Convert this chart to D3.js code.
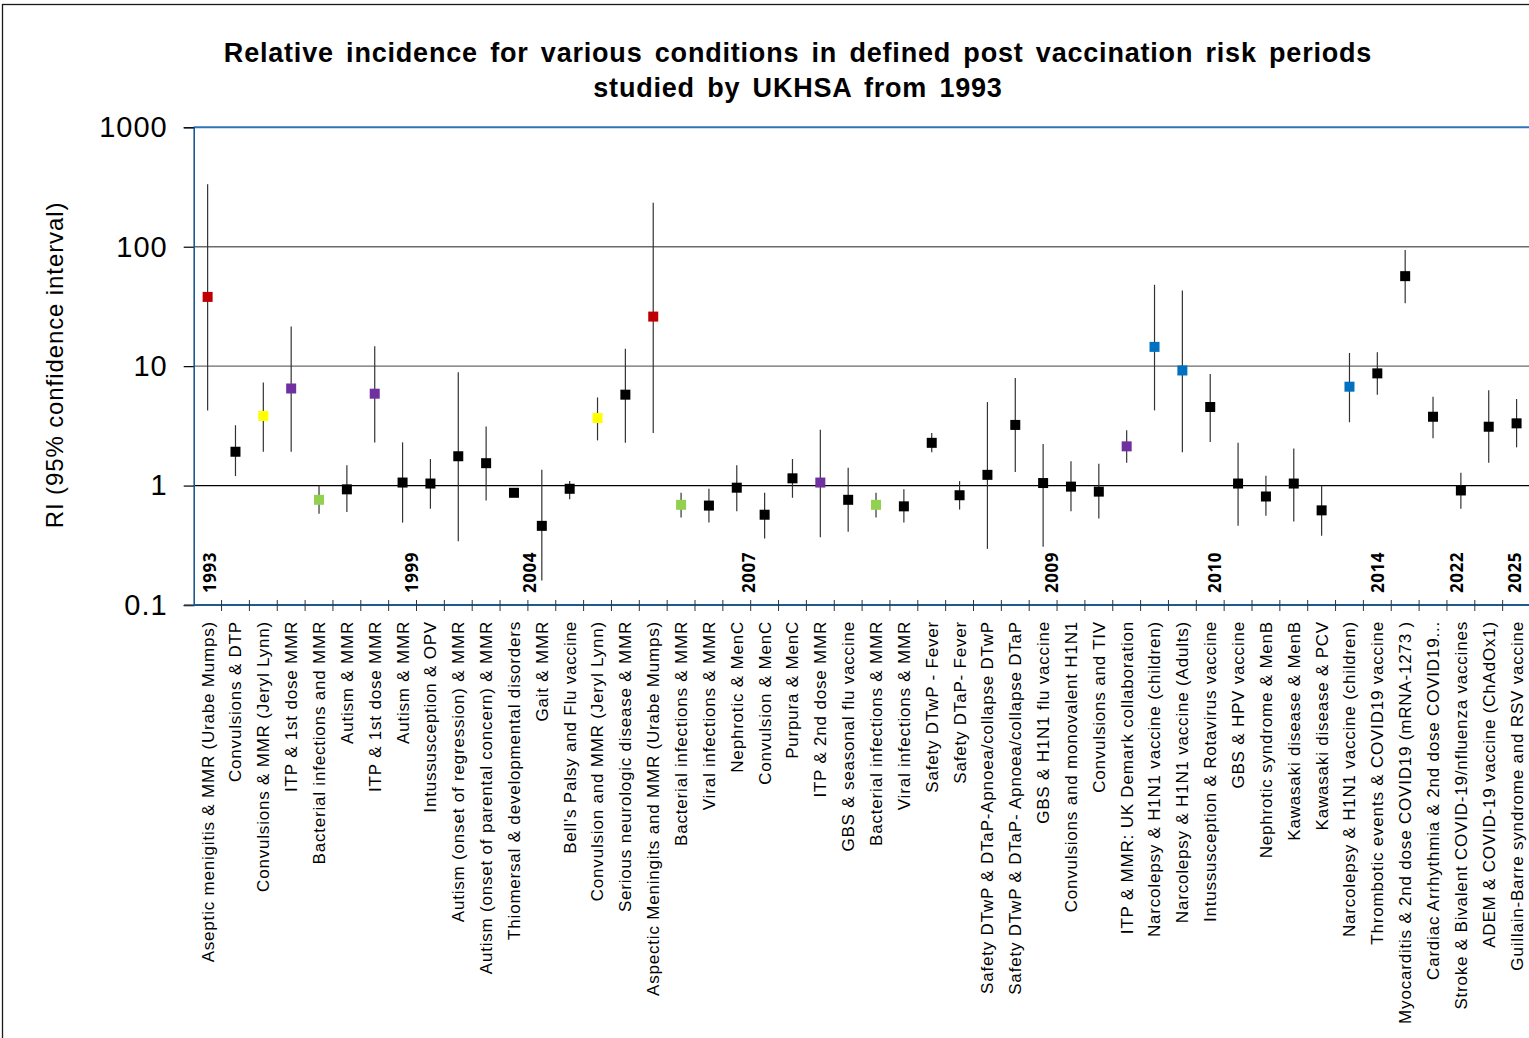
<!DOCTYPE html>
<html>
<head>
<meta charset="utf-8">
<script src="https://cdn.jsdelivr.net/npm/d3@7"></script>
<style>
  html, body { margin: 0; padding: 0; background: #fff; overflow: hidden; }
  svg { display: block; }
</style>
</head>
<body>
<svg id="chart" width="1529" height="1038"></svg>
<script>
// Studies, in publication order
const categories = [
  "Aseptic menigitis & MMR (Urabe Mumps)",
  "Convulsions & DTP",
  "Convulsions & MMR (Jeryl Lynn)",
  "ITP & 1st dose MMR",
  "Bacterial infections and MMR",
  "Autism & MMR",
  "ITP & 1st dose MMR",
  "Autism & MMR",
  "Intussusception & OPV",
  "Autism (onset of regression) & MMR",
  "Autism (onset of parental concern) & MMR",
  "Thiomersal & developmental disorders",
  "Gait & MMR",
  "Bell\u2019s Palsy and Flu vaccine",
  "Convulsion and MMR (Jeryl Lynn)",
  "Serious neurologic disease & MMR",
  "Aspectic Meningits and MMR (Urabe Mumps)",
  "Bacterial infections & MMR",
  "Viral infections & MMR",
  "Nephrotic & MenC",
  "Convulsion & MenC",
  "Purpura & MenC",
  "ITP & 2nd dose MMR",
  "GBS & seasonal flu vaccine",
  "Bacterial infections & MMR",
  "Viral infections & MMR",
  "Safety DTwP - Fever",
  "Safety DTaP- Fever",
  "Safety DTwP & DTaP-Apnoea/collapse DTwP",
  "Safety DTwP & DTaP- Apnoea/collapse DTaP",
  "GBS & H1N1 flu vaccine",
  "Convulsions and monovalent H1N1",
  "Convulsions and TIV",
  "ITP & MMR: UK Demark collaboration",
  "Narcolepsy & H1N1 vaccine (children)",
  "Narcolepsy & H1N1 vaccine (Adults)",
  "Intussusception & Rotavirus vaccine",
  "GBS & HPV vaccine",
  "Nephrotic syndrome & MenB",
  "Kawasaki disease &  MenB",
  "Kawasaki disease & PCV",
  "Narcolepsy & H1N1 vaccine (children)",
  "Thrombotic events & COVID19 vaccine",
  "Myocarditis & 2nd dose COVID19 (mRNA-1273 )",
  "Cardiac Arrhythmia & 2nd dose COVID19...",
  "Stroke & Bivalent COVID-19/nfluenza vaccines",
  "ADEM & COVID-19  vaccine (ChAdOx1)",
  "Guillain-Barre syndrome  and RSV vaccine"
];

// Relative incidence point estimates
const ri = [
  38, 1.92, 3.83, 6.5, 0.76, 0.93, 5.88, 1.06, 1.04, 1.76,
  1.54, 0.87, 0.46, 0.94, 3.68, 5.77, 26, 0.69, 0.68, 0.96,
  0.57, 1.15, 1.06, 0.76, 0.69, 0.67, 2.28, 0.83, 1.23, 3.22,
  1.05, 0.98, 0.89, 2.13, 14.5, 9.2, 4.55, 1.04, 0.81, 1.04,
  0.62, 6.73, 8.7, 56.7, 3.77, 0.91, 3.11, 3.32
];

// Lower 95% confidence limits
const lower = [
  4.26, 1.2, 1.92, 1.92, 0.58, 0.6, 2.29, 0.49, 0.64, 0.342,
  0.75, 0.83, 0.16, 0.77, 2.39, 2.28, 2.76, 0.54, 0.49, 0.61,
  0.36, 0.79, 0.37, 0.41, 0.54, 0.49, 1.9, 0.63, 0.295, 1.3,
  0.307, 0.61, 0.53, 1.55, 4.26, 1.9, 2.32, 0.46, 0.56, 0.5,
  0.38, 3.39, 5.77, 33.7, 2.49, 0.64, 1.55, 2.09
];

// Upper 95% confidence limits
const upper = [
  333, 3.2, 7.3, 21.5, 1.0, 1.48, 14.7, 2.3, 1.67, 8.9,
  3.13, 0.91, 1.36, 1.09, 5.47, 14, 234, 0.87, 0.94, 1.48,
  0.87, 1.67, 2.94, 1.41, 0.87, 0.93, 2.76, 1.09, 5.0, 7.95,
  2.23, 1.6, 1.52, 2.9, 48, 43, 8.6, 2.28, 1.21, 2.04,
  1.0, 12.9, 13.1, 94, 5.55, 1.28, 6.27, 5.31
];

// Marker colour group for each study
const groups = [
  "red", "black", "yellow", "purple", "green", "black", "purple", "black", "black", "black",
  "black", "black", "black", "black", "yellow", "black", "red", "green", "black", "black",
  "black", "black", "purple", "black", "green", "black", "black", "black", "black", "black",
  "black", "black", "black", "purple", "blue", "blue", "black", "black", "black", "black",
  "black", "blue", "black", "black", "black", "black", "black", "black"
];

// Year markers along the category axis (position in category units)
const years = ["1993", "1999", "2004", "2007", "2009", "2010", "2014", "2022", "2025"];
const yearAt = [0.58, 7.84, 12.07, 19.94, 30.82, 36.67, 42.54, 45.38, 47.43];

const yTicks = [0.1, 1, 10, 100, 1000];
const yTickLabels = ["0.1", "1", "10", "100", "1000"];

const palette = {
  red: "#C00000", black: "#000000", yellow: "#FFFF00",
  purple: "#7030A0", green: "#92D050", blue: "#0070C0"
};

const svg = d3.select("#chart");
const sans = "'Liberation Sans', Arial, sans-serif";

// Plot geometry
const plotLeft = 193.7, band = 27.85;
const plotTop = 127.3, plotBottom = 605;

const x = d3.scaleBand()
  .domain(d3.range(categories.length))
  .range([plotLeft, plotLeft + band * categories.length])
  .padding(0);

const xPos = d3.scaleLinear()
  .domain([0, categories.length])
  .range([plotLeft, plotLeft + band * categories.length]);

const y = d3.scaleLog().domain([0.1, 1000]).range([plotBottom, plotTop]);

const cx = i => x(i) + x.bandwidth() / 2;

// Outer frame
svg.append("rect")
  .attr("x", 2.5).attr("y", 4.5)
  .attr("width", 1600).attr("height", 1100)
  .attr("fill", "none").attr("stroke", "#1a1a1a").attr("stroke-width", 1.3);

// Title
const title = svg.append("text")
  .attr("text-anchor", "middle")
  .style("font-family", sans)
  .style("font-weight", "bold")
  .style("font-size", "27px")
  .style("letter-spacing", "0.8px")
  .style("word-spacing", "4px")
  .attr("fill", "#000");
title.append("tspan").attr("x", 798).attr("y", 62)
  .text("Relative incidence for various conditions in defined post vaccination risk periods");
title.append("tspan").attr("x", 798).attr("y", 97)
  .text("studied by UKHSA from 1993");

// Horizontal gridlines
svg.append("g").selectAll("line")
  .data([1, 10, 100])
  .join("line")
  .attr("x1", plotLeft).attr("x2", 1529)
  .attr("y1", d => y(d)).attr("y2", d => y(d))
  .attr("stroke", d => d === 1 ? "#000" : "#6b6b6b")
  .attr("stroke-width", 1.3);

// Top edge of the plot area
svg.append("line")
  .attr("x1", plotLeft).attr("x2", 1529)
  .attr("y1", y(1000)).attr("y2", y(1000))
  .attr("stroke", "#2E75B6").attr("stroke-width", 2);

// Y axis
const yAxis = d3.axisLeft(y)
  .tickValues(yTicks)
  .tickFormat((d, i) => yTickLabels[i])
  .tickSize(10)
  .tickPadding(16);
const yg = svg.append("g")
  .attr("transform", `translate(${plotLeft},0)`)
  .call(yAxis);
yg.select(".domain").attr("stroke", "#1F5A8C").attr("stroke-width", 1.6);
yg.selectAll(".tick line").attr("stroke", "#000").attr("stroke-width", 1.2);
yg.selectAll(".tick text")
  .style("font-family", sans)
  .style("font-size", "29px")
  .style("letter-spacing", "1px")
  .attr("fill", "#000");

// Y axis title
svg.append("text")
  .attr("transform", "translate(55,365) rotate(-90)")
  .attr("text-anchor", "middle")
  .attr("dy", "0.35em")
  .style("font-family", sans)
  .style("font-size", "24px")
  .style("letter-spacing", "0.9px")
  .attr("fill", "#000")
  .text("RI (95% confidence interval)");

// X axis: tick marks at category boundaries
const xg = svg.append("g");
xg.append("line")
  .attr("x1", plotLeft).attr("x2", 1529)
  .attr("y1", plotBottom).attr("y2", plotBottom)
  .attr("stroke", "#1F5A8C").attr("stroke-width", 1.8);
xg.selectAll("line.tick")
  .data(d3.range(1, categories.length))
  .join("line")
  .attr("class", "tick")
  .attr("x1", d => xPos(d)).attr("x2", d => xPos(d))
  .attr("y1", plotBottom - 5).attr("y2", plotBottom + 6)
  .attr("stroke", "#333").attr("stroke-width", 1);
svg.append("line")
  .attr("x1", 184).attr("x2", plotLeft)
  .attr("y1", plotBottom).attr("y2", plotBottom)
  .attr("stroke", "#555").attr("stroke-width", 1.2);

// Category labels
svg.append("g").selectAll("text")
  .data(categories)
  .join("text")
  .attr("transform", (d, i) => `translate(${cx(i)},621) rotate(-90)`)
  .attr("text-anchor", "end")
  .attr("dy", "0.35em")
  .style("font-family", sans)
  .style("font-size", "17px")
  .style("letter-spacing", "0.8px")
  .attr("fill", "#000")
  .text(d => d);

// Year markers
svg.append("g").selectAll("text")
  .data(years)
  .join("text")
  .attr("transform", (d, i) => `translate(${xPos(yearAt[i])},593) rotate(-90)`)
  .attr("text-anchor", "start")
  .attr("dy", "0.35em")
  .style("font-family", "'Open Sans', 'DejaVu Sans', sans-serif")
  .style("font-weight", "bold")
  .style("font-size", "17px")
  .style("letter-spacing", "0.5px")
  .attr("fill", "#000")
  .text(d => d);

// Confidence intervals
svg.append("g").selectAll("line")
  .data(ri)
  .join("line")
  .attr("x1", (d, i) => cx(i)).attr("x2", (d, i) => cx(i))
  .attr("y1", (d, i) => y(lower[i])).attr("y2", (d, i) => y(upper[i]))
  .attr("stroke", "#333").attr("stroke-width", 1.2);

// Point estimates
const ms = 10;
svg.append("g").selectAll("rect")
  .data(ri)
  .join("rect")
  .attr("x", (d, i) => cx(i) - ms / 2)
  .attr("y", d => y(d) - ms / 2)
  .attr("width", ms).attr("height", ms)
  .attr("fill", (d, i) => palette[groups[i]]);
</script>
</body>
</html>
